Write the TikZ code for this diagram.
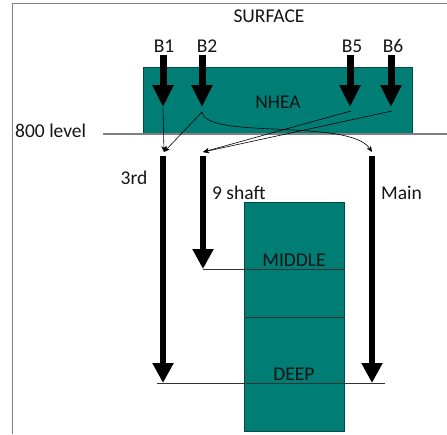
\documentclass[tikz,border=0pt]{standalone}
\usepackage{fontspec}
\setmainfont{Carlito}
\usetikzlibrary{arrows.meta}
\definecolor{teal1}{RGB}{0,125,117}
\definecolor{txt}{RGB}{20,20,20}
\tikzset{
  lbl/.style={inner sep=0pt, font=\fontsize{19.5}{22}\selectfont, text=txt},
  bigarrow/.style={line width=7pt, -{Triangle[width=20pt,length=22pt]}},
  shaftarrow/.style={line width=6.5pt, -{Triangle[width=20pt,length=20pt]}},
  thinarrow/.style={line width=0.6pt, -{Stealth[width=5pt,length=6pt]}},
  tealbox/.style={fill=teal1, draw=teal1!60!black, line width=0.6pt},
  thinline/.style={line width=0.8pt, draw=black!80},
}
\begin{document}
\begin{tikzpicture}[x=1pt,y=-1pt]
\useasboundingbox (0,0) rectangle (447,434);
% frame
\draw[gray, line width=1pt] (12,434) -- (12,3) -- (447,3);
% boxes
\node[tealbox, minimum width=269pt, minimum height=67pt, anchor=north west, inner sep=0pt] (nhea) at (143,67) {};
\node[lbl] (nheat) at (278,102) {NHEA};
\node[tealbox, minimum width=100pt, minimum height=229pt, anchor=north west, inner sep=0pt] (low) at (244,202) {};
% 800 level
\coordinate (lvlA) at (103,134);
\coordinate (lvlB) at (447,134);
\draw[gray, line width=1.1pt] (lvlA) -- (lvlB);
\node[lbl, anchor=west] (lvl) at (15,131) {800 level};
% texts
\node[lbl] (surf) at (269,16) {SURFACE};
\node[lbl] (b1) at (164,46) {B1};
\node[lbl] (b2) at (207,46) {B2};
\node[lbl] (b5) at (352,46) {B5};
\node[lbl] (b6) at (393,46) {B6};
% big arrows from surface
\coordinate (b1t) at (163,107);
\coordinate (b2t) at (202,107);
\coordinate (b5t) at (350,107);
\coordinate (b6t) at (391,107);
\draw[bigarrow] (163,55) -- (b1t);
\draw[bigarrow] (202,55) -- (b2t);
\draw[bigarrow] (350,55) -- (b5t);
\draw[bigarrow] (391,55) -- (b6t);
% shaft tops
\coordinate (s3) at (164,152);
\coordinate (s9) at (203,152);
\coordinate (sm) at (372,152);
% thin connectors
\draw[thinarrow] (b1t) ++(0,1) -- (s3);
\draw[thinarrow] (202,112) -- (s3);
\draw[thinarrow] (202,112) .. controls (206,140) and (350,118) .. (sm);
\draw[thinarrow] (351,111) -- (s9);
\draw[thinarrow] (392,111) -- (s9);
% shafts
\coordinate (s3e) at (163,383);
\coordinate (s9e) at (203,269);
\coordinate (sme) at (372,383);
\draw[shaftarrow] (163,156) -- (s3e);
\draw[shaftarrow] (203,156) -- (s9e);
\draw[shaftarrow] (372,156) -- (sme);
\node[lbl] (l3) at (134,178) {3rd};
\node[lbl, anchor=west] (l9) at (212,193) {9 shaft};
\node[lbl, anchor=west] (lm) at (381,193) {Main};
% levels
\draw[thinline] (s9e) -- (low.east |- s9e);
\draw[thinline] (low.west |- 0,317) -- (low.east |- 0,317);
\draw[thinline] (157,383) -- (385,383);
\node[lbl] (mid) at (294,260) {MIDDLE};
\node[lbl] (deep) at (294,374) {DEEP};
\end{tikzpicture}
\end{document}
